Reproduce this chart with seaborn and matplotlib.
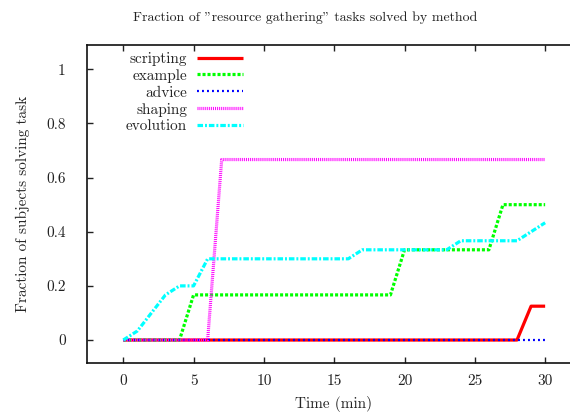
import matplotlib
matplotlib.use("Agg")
import matplotlib.pyplot as plt
import seaborn as sns
import pandas as pd
from matplotlib.ticker import FuncFormatter

minutes = list(range(31))
scripting = [0]*29 + [0.125, 0.125]
example = [0, 0, 0, 0, 0] + [0.1667]*15 + [0.3333]*7 + [0.5]*4
advice = [0]*31
shaping = [0]*7 + [0.6667]*24
evolution = [0, 0.0333, 0.1, 0.1667, 0.2, 0.2, 0.3, 0.3, 0.3, 0.3, 0.3, 0.3, 0.3, 0.3, 0.3, 0.3, 0.3,
             0.3333, 0.3333, 0.3333, 0.3333, 0.3333, 0.3333, 0.3333,
             0.3667, 0.3667, 0.3667, 0.3667, 0.3667, 0.4, 0.4333]

series_names = ["scripting", "example", "advice", "shaping", "evolution"]
series_values = [scripting, example, advice, shaping, evolution]
colors = ["#ff0000", "#00ff00", "#0000ff", "#ff00ff", "#00ffff"]
widths = [2.3, 2.3, 1.6, 2.3, 2.3]
dash_patterns = [None, (2.2, 1.4), (1.4, 2.2), (0.7, 0.7), (4.0, 1.4, 1.4, 1.4)]

x_ticks = [0, 5, 10, 15, 20, 25, 30]
y_ticks = [0, 0.2, 0.4, 0.6, 0.8, 1.0]

sns.set_style("ticks")
plt.rcParams["font.family"] = ["cmr10", "DejaVu Serif"]
plt.rcParams["axes.formatter.use_mathtext"] = True
plt.rcParams["lines.scale_dashes"] = False

W, H = 570, 413
fig = plt.figure(figsize=(W/100, H/100), dpi=100)
left_px, right_px, top_px, bottom_px = 86.7, 580.3, 44.7, 363.3
ax = fig.add_axes([left_px/W, 1 - bottom_px/H, (right_px-left_px)/W, (bottom_px-top_px)/H])

for name, vals, c, lw, dp in zip(series_names, series_values, colors, widths, dash_patterns):
    df = pd.DataFrame({"Time": minutes, "Fraction": vals})
    sns.lineplot(data=df, x="Time", y="Fraction", ax=ax, color=c, linewidth=lw, label=name)
    line = ax.lines[-1]
    if dp is not None:
        line.set_dashes(dp)
    line.set_solid_capstyle("butt")
    line.set_dash_capstyle("butt")

ax.set_xlim(-2.6, 32.5)
ax.set_ylim(-0.086, 1.091)
ax.set_xticks(x_ticks)
ax.set_yticks(y_ticks)
ax.yaxis.set_major_formatter(FuncFormatter(lambda v, p: "%g" % v))
ax.xaxis.set_major_formatter(FuncFormatter(lambda v, p: "%g" % v))
ax.tick_params(direction="in", length=4, width=1, top=True, right=True, labelsize=11, pad=8, colors="#222222", labelcolor="#222222")
ax.tick_params(axis="y", pad=15)
for s in ax.spines.values():
    s.set_linewidth(1.2)
    s.set_color("#111111")

ax.set_xlabel("Time (min)", fontsize=11, labelpad=6)
ax.set_ylabel("Fraction of subjects solving task", fontsize=11, labelpad=12)
fig.text(305/W, 1 - 18/H, 'Fraction of "resource gathering" tasks solved by method', fontsize=10,
         ha="center", va="center", color="#222222")

handles = ax.lines[:5]
leg = ax.legend(handles, series_names, loc="upper right",
                bbox_to_anchor=((243 - left_px)/(right_px-left_px), 1 - (52 - top_px)/(bottom_px-top_px)),
                markerfirst=False, frameon=False, fontsize=11, handlelength=3.0, handletextpad=0.65,
                labelspacing=0.2, borderaxespad=0, borderpad=0)
for t in leg.get_texts():
    t.set_ha("right")
leg._legend_box.align = "right"

fig.savefig("out.png", dpi=100)
